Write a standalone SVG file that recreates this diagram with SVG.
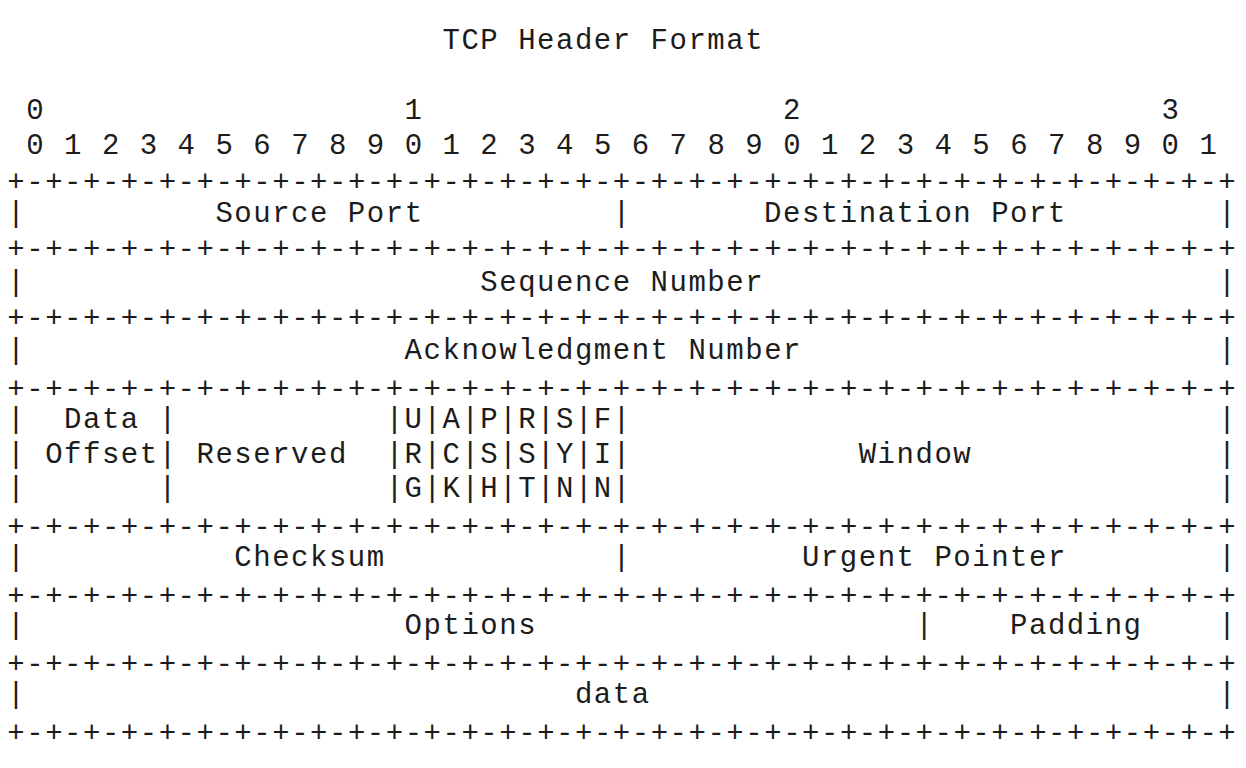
<svg xmlns="http://www.w3.org/2000/svg" width="1246" height="768" viewBox="0 0 1246 768">
<style>
text{font-family:"Liberation Mono","DejaVu Sans Mono",monospace;font-size:29px;fill:#1c1c1c;letter-spacing:1.52px;white-space:pre}
text.bar{letter-spacing:0}
</style>
<rect x="0" y="0" width="1246" height="768" fill="#ffffff"/>
<g id="title"><text x="442.46" y="48.5">TCP Header Format</text></g>
<g id="bit-ruler">
<text x="26.22" y="119">0</text>
<text x="404.62" y="119">1</text>
<text x="783.02" y="119">2</text>
<text x="1161.42" y="119">3</text>
<text x="26.22" y="153.5">0 1 2 3 4 5 6 7 8 9 0 1 2 3 4 5 6 7 8 9 0 1 2 3 4 5 6 7 8 9 0 1</text>
</g>
<g id="connectors">
<g id="borders">
<text x="7.3" y="190.8">+-+-+-+-+-+-+-+-+-+-+-+-+-+-+-+-+-+-+-+-+-+-+-+-+-+-+-+-+-+-+-+-+</text>
<text x="7.3" y="257.5">+-+-+-+-+-+-+-+-+-+-+-+-+-+-+-+-+-+-+-+-+-+-+-+-+-+-+-+-+-+-+-+-+</text>
<text x="7.3" y="327.2">+-+-+-+-+-+-+-+-+-+-+-+-+-+-+-+-+-+-+-+-+-+-+-+-+-+-+-+-+-+-+-+-+</text>
<text x="7.3" y="398.2">+-+-+-+-+-+-+-+-+-+-+-+-+-+-+-+-+-+-+-+-+-+-+-+-+-+-+-+-+-+-+-+-+</text>
<text x="7.3" y="535.8">+-+-+-+-+-+-+-+-+-+-+-+-+-+-+-+-+-+-+-+-+-+-+-+-+-+-+-+-+-+-+-+-+</text>
<text x="7.3" y="604.5">+-+-+-+-+-+-+-+-+-+-+-+-+-+-+-+-+-+-+-+-+-+-+-+-+-+-+-+-+-+-+-+-+</text>
<text x="7.3" y="673.2">+-+-+-+-+-+-+-+-+-+-+-+-+-+-+-+-+-+-+-+-+-+-+-+-+-+-+-+-+-+-+-+-+</text>
<text x="7.3" y="741.9">+-+-+-+-+-+-+-+-+-+-+-+-+-+-+-+-+-+-+-+-+-+-+-+-+-+-+-+-+-+-+-+-+</text>
</g>
<g id="separators">
<text class="bar" x="7.3" y="221.5">|</text><text class="bar" x="612.74" y="221.5">|</text><text class="bar" x="1218.18" y="221.5">|</text>
<text class="bar" x="7.3" y="290.5">|</text><text class="bar" x="1218.18" y="290.5">|</text>
<text class="bar" x="7.3" y="358.5">|</text><text class="bar" x="1218.18" y="358.5">|</text>
<text class="bar" x="7.3" y="428.3">|</text><text class="bar" x="158.66" y="428.3">|</text><text class="bar" x="385.7" y="428.3">|</text><text class="bar" x="423.54" y="428.3">|</text><text class="bar" x="461.38" y="428.3">|</text><text class="bar" x="499.22" y="428.3">|</text><text class="bar" x="537.06" y="428.3">|</text><text class="bar" x="574.9" y="428.3">|</text><text class="bar" x="612.74" y="428.3">|</text><text class="bar" x="1218.18" y="428.3">|</text>
<text class="bar" x="7.3" y="462.6">|</text><text class="bar" x="158.66" y="462.6">|</text><text class="bar" x="385.7" y="462.6">|</text><text class="bar" x="423.54" y="462.6">|</text><text class="bar" x="461.38" y="462.6">|</text><text class="bar" x="499.22" y="462.6">|</text><text class="bar" x="537.06" y="462.6">|</text><text class="bar" x="574.9" y="462.6">|</text><text class="bar" x="612.74" y="462.6">|</text><text class="bar" x="1218.18" y="462.6">|</text>
<text class="bar" x="7.3" y="497">|</text><text class="bar" x="158.66" y="497">|</text><text class="bar" x="385.7" y="497">|</text><text class="bar" x="423.54" y="497">|</text><text class="bar" x="461.38" y="497">|</text><text class="bar" x="499.22" y="497">|</text><text class="bar" x="537.06" y="497">|</text><text class="bar" x="574.9" y="497">|</text><text class="bar" x="612.74" y="497">|</text><text class="bar" x="1218.18" y="497">|</text>
<text class="bar" x="7.3" y="565.7">|</text><text class="bar" x="612.74" y="565.7">|</text><text class="bar" x="1218.18" y="565.7">|</text>
<text class="bar" x="7.3" y="634.4">|</text><text class="bar" x="915.46" y="634.4">|</text><text class="bar" x="1218.18" y="634.4">|</text>
<text class="bar" x="7.3" y="703.1">|</text><text class="bar" x="1218.18" y="703.1">|</text>
</g>
</g>
<g id="source-port"><text x="215.42" y="221.5">Source Port</text></g>
<g id="destination-port"><text x="764.1" y="221.5">Destination Port</text></g>
<g id="sequence-number"><text x="480.3" y="290.5">Sequence Number</text></g>
<g id="acknowledgment-number"><text x="404.62" y="358.5">Acknowledgment Number</text></g>
<g id="data-offset"><text x="64.06" y="428.3">Data</text><text x="45.14" y="462.6">Offset</text></g>
<g id="reserved"><text x="196.5" y="462.6">Reserved</text></g>
<g id="flag-urg"><text x="404.62" y="428.3">U</text><text x="404.62" y="462.6">R</text><text x="404.62" y="497">G</text></g>
<g id="flag-ack"><text x="442.46" y="428.3">A</text><text x="442.46" y="462.6">C</text><text x="442.46" y="497">K</text></g>
<g id="flag-psh"><text x="480.3" y="428.3">P</text><text x="480.3" y="462.6">S</text><text x="480.3" y="497">H</text></g>
<g id="flag-rst"><text x="518.14" y="428.3">R</text><text x="518.14" y="462.6">S</text><text x="518.14" y="497">T</text></g>
<g id="flag-syn"><text x="555.98" y="428.3">S</text><text x="555.98" y="462.6">Y</text><text x="555.98" y="497">N</text></g>
<g id="flag-fin"><text x="593.82" y="428.3">F</text><text x="593.82" y="462.6">I</text><text x="593.82" y="497">N</text></g>
<g id="window"><text x="858.7" y="462.6">Window</text></g>
<g id="checksum"><text x="234.34" y="565.7">Checksum</text></g>
<g id="urgent-pointer"><text x="801.94" y="565.7">Urgent Pointer</text></g>
<g id="options"><text x="404.62" y="634.4">Options</text></g>
<g id="padding"><text x="1010.06" y="634.4">Padding</text></g>
<g id="data"><text x="574.9" y="703.1">data</text></g>
</svg>
